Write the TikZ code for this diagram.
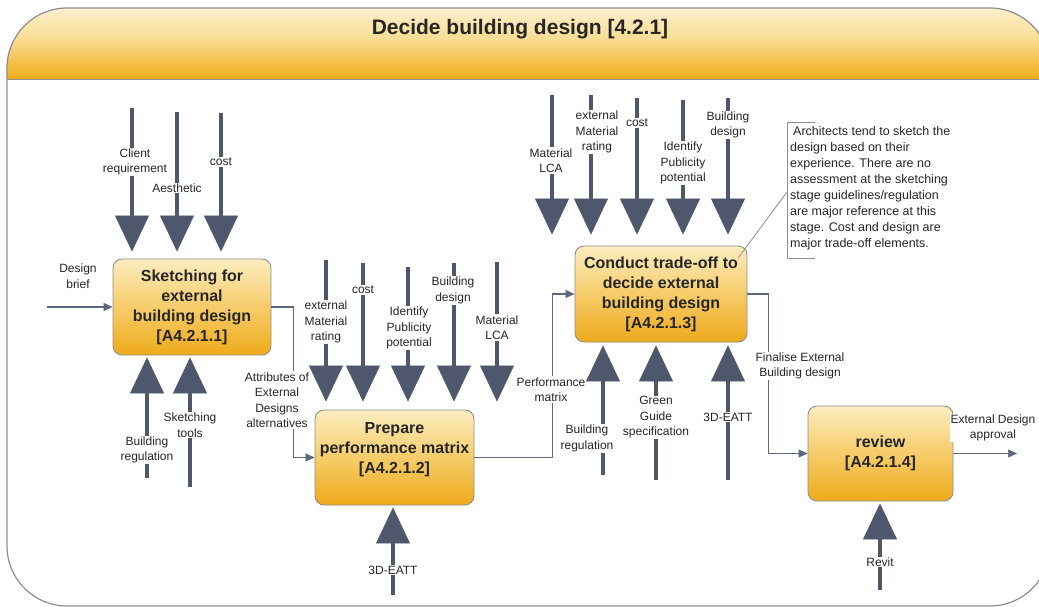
\documentclass[tikz,border=0pt]{standalone}
\usepackage{fontspec}
\setmainfont{Liberation Sans}
\usetikzlibrary{arrows.meta,calc}
\definecolor{arrowc}{HTML}{4F576C}
\definecolor{flowc}{HTML}{5E6780}
\definecolor{framec}{HTML}{8E8E8E}
\definecolor{boxtop}{HTML}{FCEDC0}
\definecolor{boxmid}{HTML}{F6CC6A}
\definecolor{boxbot}{HTML}{EEAA1A}
\definecolor{bantop}{HTML}{FDF5DF}
\definecolor{banmid}{HTML}{F8DC90}
\definecolor{banbot}{HTML}{EFAC16}
\definecolor{txtc}{HTML}{262626}
\begin{document}
\begin{tikzpicture}[x=1pt,y=-1pt,
  proc/.style={draw=framec,line width=0.9pt,rounded corners=9pt,top color=boxtop,bottom color=boxbot,middle color=boxmid,align=center,inner sep=0pt,text=txtc,font=\bfseries\fontsize{16}{20}\selectfont},
  lab/.style={fill=white,inner sep=1pt,align=center,text=txtc,font=\fontsize{12}{15.5}\selectfont},
  big/.style={draw=arrowc,line width=3.5pt,-{Triangle[length=36pt,width=34pt,line width=0.5pt]}},
  flow/.style={draw=flowc,line width=1.4pt,-{Triangle[length=9pt,width=8pt,line width=0.5pt]}},
  thin/.style={draw=framec,line width=0.8pt}]
\useasboundingbox (0,0) rectangle (1039,607);

% frame and banner
\begin{scope}
  \clip (0,0) rectangle (1039,607);
  \begin{scope}
    \clip[rounded corners=60pt] (7,8) rectangle (1050,606);
    \shade[top color=bantop,bottom color=banbot,middle color=banmid] (0,0) rectangle (1060,79);
  \end{scope}
  \draw[framec,line width=1.2pt,rounded corners=60pt] (7,8) rectangle (1050,606);
  \draw[framec,line width=0.8pt] (7,79) -- (1050,79);
\end{scope}
\node[font=\bfseries\fontsize{21}{25}\selectfont,text=txtc] (title) at (520,29) {Decide building design [4.2.1]};

% activity boxes
\node[proc,minimum width=158pt,minimum height=96pt] (b1) at (192,307) {Sketching for\\external\\building design\\{[A4.2.1.1]}};
\node[proc,minimum width=159pt,minimum height=95pt] (b2) at (394.5,457.5) {Prepare\\performance matrix\\{[A4.2.1.2]}\\ };
\node[proc,minimum width=172pt,minimum height=96pt] (b3) at (661,294) {Conduct trade-off to\\decide external\\building design\\{[A4.2.1.3]}};
\node[proc,minimum width=145pt,minimum height=95pt] (b4) at (880.5,453.5) {review\\{[A4.2.1.4]}};

% flows
\coordinate (db) at (47,307);
\coordinate (o4) at (1017,453.5);
\draw[flow] (db) -- (b1.west);
\draw[flow] (b1.east) -- ++(22,0) |- (b2.west);
\draw[flow] (b2.east) -- ++(78,0) |- (b3.west);
\draw[flow] (b3.east) -- ++(21,0) |- (b4.west);
\draw[flow] (b4.east) -- (o4);

\node[lab] (lat) at (277,400) {Attributes of\\External\\Designs\\alternatives};
\node[lab] (lpm) at (551,389.5) {Performance\\matrix};
\node[lab] (lfe) at (800,366) {Finalise External\\Building design};
\node[lab] (ldb) at (78,276) {Design\\brief};
\node[lab] (lea) at (993,428) {External Design\\approval};

% controls of box 1
\coordinate (k1a) at (132,108);
\coordinate (k1b) at (177,112);
\coordinate (k1c) at (221,113);
\foreach \c in {k1a,k1b,k1c} \draw[big,shorten >=7pt] (\c) -- (\c |- b1.north);
% mechanisms of box 1
\coordinate (m1a) at (147,478);
\coordinate (m1b) at (190,487);
\foreach \c in {m1a,m1b} \draw[big,shorten >=2pt] (\c) -- (\c |- b1.south);

% controls of box 2
\coordinate (k2a) at (326,260);
\coordinate (k2b) at (363,263);
\coordinate (k2c) at (408,267);
\coordinate (k2d) at (454,263);
\coordinate (k2e) at (497,262);
\foreach \c in {k2a,k2b,k2c,k2d,k2e} \draw[big,shorten >=8pt] (\c) -- (\c |- b2.north);
\coordinate (m2a) at (393,595);
\draw[big,shorten >=2pt] (m2a) -- (m2a |- b2.south);

% controls of box 3
\coordinate (k3a) at (552,95);
\coordinate (k3b) at (591,95);
\coordinate (k3c) at (637,98);
\coordinate (k3d) at (683,100);
\coordinate (k3e) at (728,98);
\foreach \c in {k3a,k3b,k3c,k3d,k3e} \draw[big,shorten >=11pt] (\c) -- (\c |- b3.north);
\coordinate (m3a) at (603,475);
\coordinate (m3b) at (656,480);
\coordinate (m3c) at (728,480);
\foreach \c in {m3a,m3b,m3c} \draw[big,shorten >=3pt] (\c) -- (\c |- b3.south);

% mechanism of box 4
\coordinate (m4a) at (880,590);
\draw[big,shorten >=2pt] (m4a) -- (m4a |- b4.south);

% labels on the arrows
\node[lab] at (135,162) {Client\\requirement};
\node[lab] at (177,188) {Aesthetic};
\node[lab] at (221,162) {cost};
\node[lab] at (147,450) {Building\\regulation};
\node[lab] at (190,425) {Sketching\\tools};

\node[lab] at (326,322) {external\\Material\\rating};
\node[lab] at (363,290) {cost};
\node[lab] at (409,328) {Identify\\Publicity\\potential};
\node[lab] at (453,290.5) {Building\\design};
\node[lab] at (497,327.5) {Material\\LCA};
\node[lab] at (393,570) {3D-EATT};

\node[lab] at (551,160.5) {Material\\LCA};
\node[lab] at (597,132) {external\\Material\\rating};
\node[lab] at (637,123) {cost};
\node[lab] at (683,163) {Identify\\Publicity\\potential};
\node[lab] at (728,125) {Building\\design};
\node[lab] at (587,438.5) {Building\\regulation};
\node[lab] at (656,417.5) {Green\\Guide\\specification};
\node[lab] at (728,417) {3D-EATT};

\node[lab] at (880,562) {Revit};

% note
\node[anchor=north west,align=left,inner sep=0pt,text=txtc,font=\fontsize{12.5}{16}\selectfont] (note) at (790,126)
 {\hspace{3pt}Architects tend to sketch the\\design based on their\\experience. There are no\\assessment at the sketching\\stage guidelines/regulation\\are major reference at this\\stage. Cost and design are\\major trade-off elements.};
\draw[thin] (815,122) -- (787,122) -- (787,258) -- (815,258);
\coordinate (notept) at (787,192);
\draw[thin] ([xshift=-9pt,yshift=-12pt]b3.north east) -- (notept);
\end{tikzpicture}
\end{document}
